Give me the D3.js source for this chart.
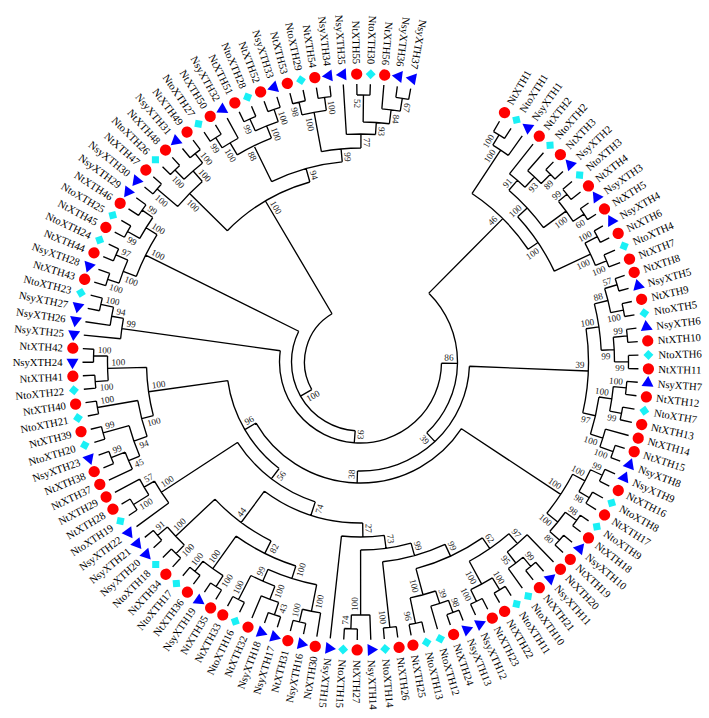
<!DOCTYPE html>
<html>
<head>
<meta charset="utf-8">
<script src="https://cdn.jsdelivr.net/npm/d3@7"></script>
<style>
  html, body { margin: 0; background: #fff; }
  svg { display: block; }
</style>
</head>
<body>
<svg id="tree"></svg>
<script>
// clades written as (children)support:depth, tips run clockwise from NtXTH1
const cladeUpperRight = '(((NtXTH1,NtoXTH1)100:266,NsyXTH1)100:254,(((NtXTH2,(NtoXTH2,(NtXTH3,NsyXTH2)89:267)93:254)91:240,((NtoXTH3,NtXTH4)99:266,(NsyXTH3,NtXTH5)60:268)100:255)100:227,((NsyXTH4,NtXTH6)100:268,(NtoXTH4,NtXTH7)100:266)100:254)100:214)46:202'
const cladeRight = '((((NtXTH8,NsyXTH5)57:268,(NtXTH9,NtoXTH5)100:268)88:255,((NsyXTH6,NtXTH10)99:268,(NtoXTH6,NtXTH11)99:268)99:254)100:241,(((NsyXTH7,NtXTH12)100:267,(NtoXTH7,NtXTH13)99:266)100:254,(NtXTH14,(NtXTH15,NsyXTH8)100:268)100:254)97:241)39:228'
const cladeLowerRight = '(((NsyXTH9,NtXTH16)99:267,(NtoXTH8,NtXTH17)98:266)100:254,((NtoXTH9,NtXTH18)98:268,(NsyXTH10,NtXTH19)80:267)100:254)100:240'
const cladeBottom = '((((NtXTH20,((NsyXTH11,NtXTH21)99:266,NtoXTH10)95:254)97:240,((NtoXTH11,NtXTH22)100:267,(NtXTH23,NsyXTH12)100:266)100:253)62:227,(((NsyXTH13,NtXTH24)98:267,NtoXTH12)39:254,(NtoXTH13,NtXTH25)96:267)100:241)99:214,(NtXTH26,NtoXTH14)100:267)99:201'
const cladeNtXTH27 = '(NsyXTH14,(NtXTH27,NtoXTH15)74:267)100:253'
const cladeLowerLeft = '((((NtXTH30,(NsyXTH16,NtXTH31)100:267)100:254,(((NsyXTH17,NsyXTH18)43:267,NtXTH32)100:254,(NtoXTH16,NtXTH33)100:267)99:240)100:227,((NtXTH35,NsyXTH19)100:267,(NtXTH36,NtoXTH17)100:267)100:254)82:214,((NtXTH34,NtoXTH18)100:266,(NsyXTH20,NsyXTH21)91:267)100:254)44:200'
const cladeNsyXTH22 = '(NsyXTH22,((NtoXTH19,NtXTH28)100:268,NtXTH29)57:250)100:238'
const cladeLeft = '((((NtXTH37,(NtXTH38,NsyXTH23)99:267)45:252,(NtoXTH20,NtXTH39)99:267)94:240,(NtoXTH21,NtXTH40)100:267)100:226,((NtoXTH22,NtXTH41)100:266,(NsyXTH24,NtXTH42)100:267)100:253)100:214'
const cladeNsyXTH25 = '(NsyXTH25,(NsyXTH26,(NsyXTH27,NtoXTH23)100:266)94:253)99:241'
const cladeUpperLeft = '(((NtXTH43,NsyXTH28)100:266,(NtXTH44,NtoXTH24)97:267)100:254,((NtXTH45,NtoXTH25)99:267,(NtXTH46,NsyXTH29)99:266)100:253)100:240'
const cladeTopLeft = '((NsyXTH30,NtXTH47)100:267,((NtoXTH26,NtXTH48)100:267,(NsyXTH31,NtXTH49)100:266)100:254)100:240'
const cladeTop = '((((NtoXTH27,NtXTH50)99:267,NsyXTH32)100:255,((NtXTH51,NtoXTH28)99:267,(NtXTH52,NsyXTH33)100:267)100:254)88:241,(((NtXTH53,NtoXTH29)98:267,(NtXTH54,NsyXTH34)100:267)100:254,(NsyXTH35,((NtXTH55,NtoXTH30)52:267,(NtXTH56,(NsyXTH36,NsyXTH37)67:267)84:254)93:240)77:228)99:214)94:201'

const cladeBelow = `(${cladeBottom},${cladeNtXTH27})73:188`
const cladeMiddle = `((${cladeBelow},NsyXTH15)27:175,${cladeLowerLeft})74:161`
const cladeInner = `((${cladeMiddle},${cladeNsyXTH22})56:147,${cladeLeft})96:134`
const cladeRing = `(${cladeUpperRight},(${cladeRight},(${cladeLowerRight},${cladeInner})38:121)39:109)86:97`
const treeText = `(((${cladeRing},${cladeNsyXTH25})93:81,${cladeUpperLeft})100:69,(${cladeTopLeft},${cladeTop})100:187):56`

const tipDepth = 278
const firstTipAngle = 30
const lastTipAngle = 370.4
const species = ['Nt', 'Nto', 'Nsy']
const speciesColor = ['#ff0000', '#19f0f5', '#0000ff']
const speciesShape = [d3.symbolCircle, d3.symbolSquare, d3.symbolTriangle]
const speciesSize = [100, 50, 62]

const width = 709, height = 718
const cx = 360.5, cy = 362

function parseTree(text){
	let pos = 0
	function node(){
		const n = {}
		if(text[pos] === '('){
			n.children = []
			do { pos++; n.children.push(node()) } while(text[pos] === ',')
			pos++ // closing bracket
		}
		let start = pos
		while(pos < text.length && !',)'.includes(text[pos])) pos++
		const bits = text.slice(start, pos).split(':')
		if(n.children){
			n.support = bits[0]
			n.depth = +bits[1]
		} else {
			n.name = bits[0]
			n.depth = tipDepth
		}
		return n
	}
	return node()
}

const root = d3.hierarchy(parseTree(treeText))
const tips = root.leaves()

const angle = d3.scaleLinear().domain([0, tips.length - 1]).range([firstTipAngle, lastTipAngle])
const radius = d3.scaleLinear().domain([0, tipDepth]).range([0, tipDepth])

// tips are evenly spaced, a node sits half way between its outer children
tips.forEach((d,i) => { d.angle = angle(i) })
root.eachAfter(d => {
	if(d.children) d.angle = (d.children[0].angle + d.children[d.children.length-1].angle) / 2
	d.r = radius(d.data.depth)
})

const rad = a => (a - 90) * Math.PI / 180
const flippedTip = a => a > 187.5
// support values turn over a little earlier, the innermost 93 does not
const flippedSupport = d => d.angle > 179.5 && (d.r > 90 || d.angle > 187.5)

const svg = d3.select('#tree').attr('width', width).attr('height', height)
const g = svg.append('g').attr('transform', `translate(${cx},${cy})`)

// branches
const branches = d3.path()
root.descendants().forEach(d => {
	if(d.parent){
		branches.moveTo(d.parent.r * Math.cos(rad(d.angle)), d.parent.r * Math.sin(rad(d.angle)))
		branches.lineTo(d.r * Math.cos(rad(d.angle)), d.r * Math.sin(rad(d.angle)))
	}
	if(d.children){
		const a0 = d.children[0].angle, a1 = d.children[d.children.length-1].angle
		branches.moveTo(d.r * Math.cos(rad(a0)), d.r * Math.sin(rad(a0)))
		branches.arc(0, 0, d.r, rad(a0), rad(a1))
	}
})
g.append('path')
	.attr('d', branches.toString())
	.attr('fill', 'none')
	.attr('stroke', '#000')
	.attr('stroke-width', 1.35)

// support values, first child on the counter clockwise side of its branch
const inner = root.descendants().filter(d => d.parent && d.children)
g.append('g')
	.attr('font-family', '"Liberation Serif", serif')
	.attr('font-size', '9.2px')
	.attr('fill', '#222')
	.selectAll('text')
	.data(inner)
	.join('text')
		.attr('dy', '0.35em')
		.attr('text-anchor', d => flippedSupport(d) ? 'start' : 'end')
		.attr('transform', d => {
			const side = d.parent.children[0] === d ? -6 : 6
			return `rotate(${d.angle - 90}) translate(${d.r - 4},${side})` + (flippedSupport(d) ? ' rotate(180)' : '')
		})
		.text(d => d.data.support)

// tip markers, turned with their branch
const speciesOf = name => species.indexOf(name.slice(0, name.indexOf('XTH')))
g.append('g')
	.selectAll('path')
	.data(tips)
	.join('path')
		.attr('d', d => d3.symbol().type(speciesShape[speciesOf(d.data.name)]).size(speciesSize[speciesOf(d.data.name)])())
		.attr('fill', d => speciesColor[speciesOf(d.data.name)])
		.attr('transform', d => {
			const diamond = speciesOf(d.data.name) === 1 ? 45 : 0
			return `rotate(${d.angle - 90}) translate(${radius(tipDepth) + 10},0) rotate(${diamond})`
		})

// tip names
g.append('g')
	.attr('font-family', '"Liberation Serif", serif')
	.attr('font-size', '10.7px')
	.attr('fill', '#000')
	.selectAll('text')
	.data(tips)
	.join('text')
		.attr('dy', '0.35em')
		.attr('text-anchor', d => flippedTip(d.angle) ? 'end' : 'start')
		.attr('transform', d => `rotate(${d.angle - 90}) translate(${radius(tipDepth) + 20},0)` + (flippedTip(d.angle) ? ' rotate(180)' : ''))
		.text(d => d.data.name)
</script>
</body>
</html>
